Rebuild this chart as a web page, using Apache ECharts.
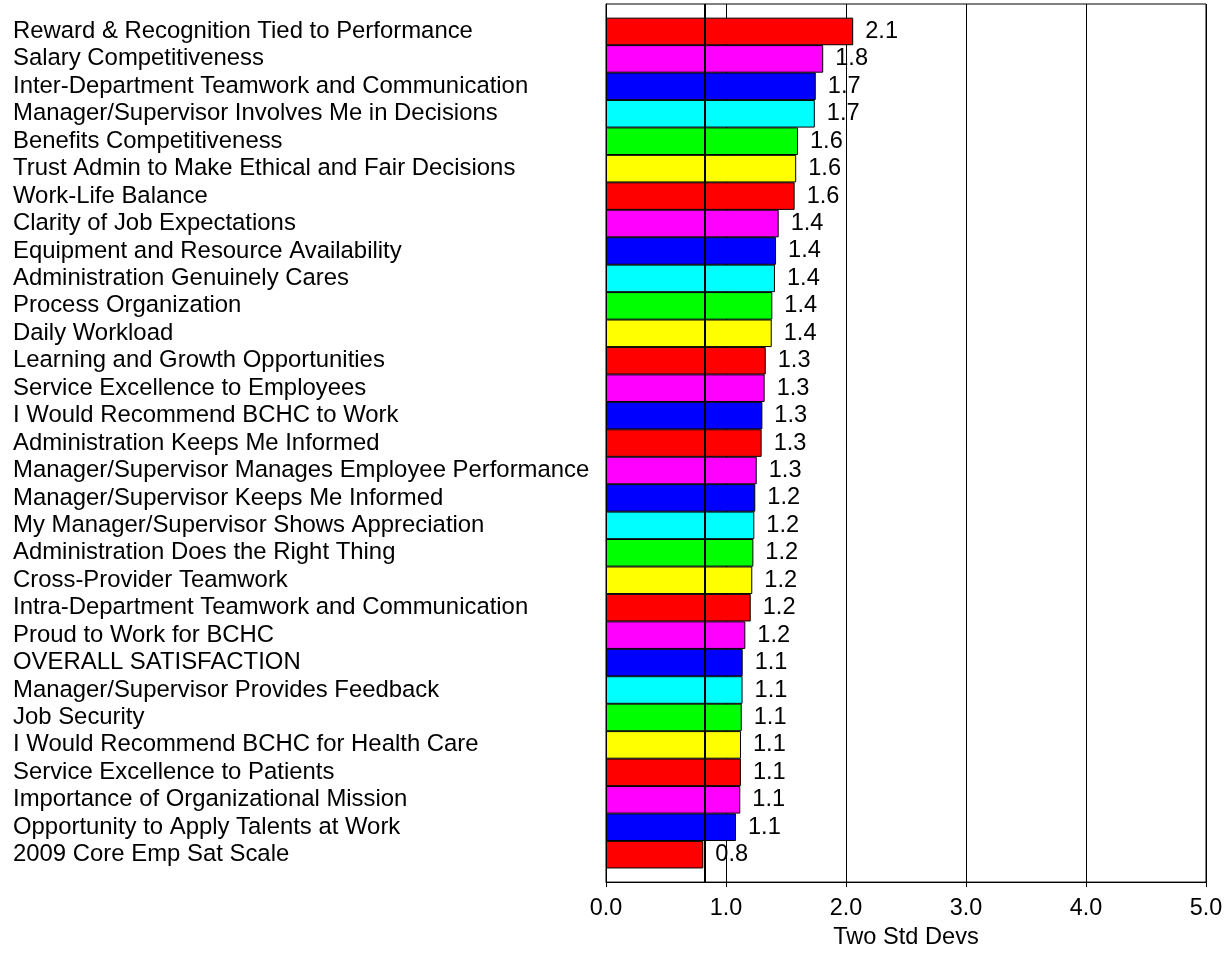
<!DOCTYPE html>
<html>
<head>
<meta charset="utf-8">
<title>Two Std Devs</title>
<script src="https://cdn.jsdelivr.net/npm/echarts@6/dist/echarts.min.js"></script>
<style>
  html, body { margin: 0; padding: 0; background: #fff; }
  #chart { width: 1229px; height: 954px; }
</style>
</head>
<body>
<div id="chart"></div>
<script>
// survey items, top to bottom
const categories = [
  'Reward & Recognition Tied to Performance',
  'Salary Competitiveness',
  'Inter-Department Teamwork and Communication',
  'Manager/Supervisor Involves Me in Decisions',
  'Benefits Competitiveness',
  'Trust Admin to Make Ethical and Fair Decisions',
  'Work-Life Balance',
  'Clarity of Job Expectations',
  'Equipment and Resource Availability',
  'Administration Genuinely Cares',
  'Process Organization',
  'Daily Workload',
  'Learning and Growth Opportunities',
  'Service Excellence to Employees',
  'I Would Recommend BCHC to Work',
  'Administration Keeps Me Informed',
  'Manager/Supervisor Manages Employee Performance',
  'Manager/Supervisor Keeps Me Informed',
  'My Manager/Supervisor Shows Appreciation',
  'Administration Does the Right Thing',
  'Cross-Provider Teamwork',
  'Intra-Department Teamwork and Communication',
  'Proud to Work for BCHC',
  'OVERALL SATISFACTION',
  'Manager/Supervisor Provides Feedback',
  'Job Security',
  'I Would Recommend BCHC for Health Care',
  'Service Excellence to Patients',
  'Importance of Organizational Mission',
  'Opportunity to Apply Talents at Work',
  '2009 Core Emp Sat Scale'
]
const stdDevs = [
  2.06, 1.81, 1.748, 1.74, 1.60, 1.585, 1.572, 1.439, 1.417, 1.408,
  1.386, 1.381, 1.331, 1.322, 1.303, 1.297, 1.256, 1.244, 1.236, 1.228,
  1.219, 1.206, 1.161, 1.139, 1.138, 1.131, 1.125, 1.124, 1.119, 1.083,
  0.811
]
const barColors = [
  'red', 'magenta', 'blue', 'cyan', 'green', 'yellow',
  'red', 'magenta', 'blue', 'cyan', 'green', 'yellow',
  'red', 'magenta', 'blue',
  'red', 'magenta', 'blue', 'cyan', 'green', 'yellow',
  'red', 'magenta', 'blue', 'cyan', 'green', 'yellow',
  'red', 'magenta', 'blue',
  'red'
]
const xTicks = [0, 1, 2, 3, 4, 5]
const refValue = 0.817

const palette = {
  red: '#FF0000',
  magenta: '#FF00FF',
  blue: '#0000FF',
  cyan: '#00FFFF',
  green: '#00FF00',
  yellow: '#FFFF00'
}
const font = '"Liberation Sans", Arial, Helvetica, sans-serif'

// blank slots at both ends give the half-band padding above and below the bars
const yData = [''].concat(categories, [''])
const barData = [null].concat(stdDevs.map((v, i) => ({
  value: v,
  itemStyle: { color: palette[barColors[i]] }
})), [null])

const chart = echarts.init(document.getElementById('chart'))
const option = {
  animation: false,
  textStyle: { fontFamily: font },
  grid: {
    left: 606,
    right: 23,
    top: 4,
    bottom: 67,
    show: true,
    borderColor: '#000',
    borderWidth: 1
  },
  xAxis: {
    type: 'value',
    min: xTicks[0],
    max: xTicks[xTicks.length - 1],
    interval: 1,
    name: 'Two Std Devs',
    nameLocation: 'middle',
    nameGap: 42,
    nameTextStyle: { color: '#000', fontSize: 23.6, fontFamily: font },
    axisLine: { show: true, lineStyle: { color: '#000', width: 1 } },
    axisTick: { show: true, length: 5, lineStyle: { color: '#000' } },
    axisLabel: {
      color: '#000',
      fontSize: 23.4,
      fontFamily: font,
      margin: 15,
      formatter: v => v.toFixed(1)
    },
    splitLine: { show: true, lineStyle: { color: '#000', width: 1 } }
  },
  yAxis: {
    type: 'category',
    inverse: true,
    boundaryGap: false,
    data: yData,
    axisLine: { show: true, lineStyle: { color: '#000', width: 1 } },
    axisTick: { show: false },
    splitLine: { show: false },
    axisLabel: {
      interval: 0,
      align: 'left',
      margin: 593,
      color: '#000',
      fontSize: 23.9,
      fontFamily: font
    }
  },
  series: [{
    type: 'bar',
    data: barData,
    barWidth: 27.6,
    itemStyle: { borderColor: '#000', borderWidth: 1 },
    label: {
      show: true,
      position: 'right',
      distance: 12,
      color: '#000',
      fontSize: 23.6,
      fontFamily: font,
      formatter: p => p.value.toFixed(1)
    },
    markLine: {
      silent: true,
      symbol: 'none',
      label: { show: false },
      lineStyle: { color: '#000', width: 2, type: 'solid' },
      data: [{ xAxis: refValue }]
    }
  }]
}
chart.setOption(option)
</script>
</body>
</html>
